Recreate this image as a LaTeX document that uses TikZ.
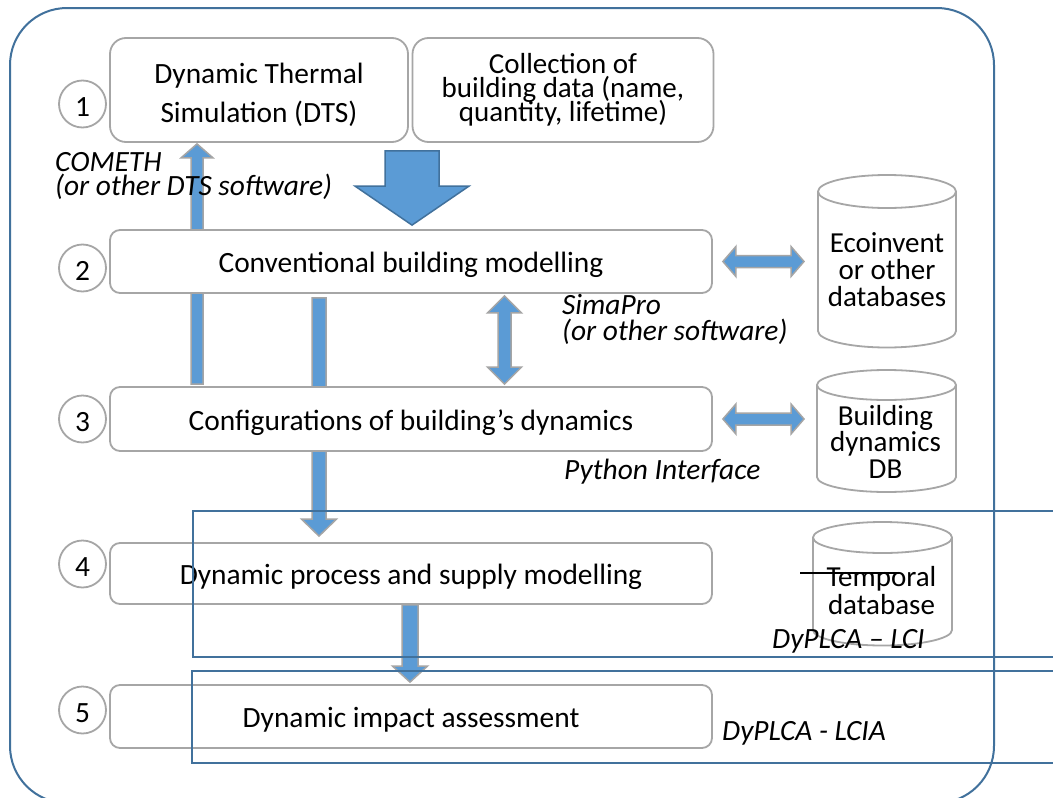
\documentclass[tikz,border=0pt]{standalone}
\usepackage{fontspec}
\setmainfont{Carlito}
\usetikzlibrary{calc}
\pgfdeclarelayer{back}
\pgfdeclarelayer{mid}
\pgfdeclarelayer{front}
\pgfsetlayers{back,mid,main,front}
\definecolor{frameblue}{HTML}{41719C}
\definecolor{arrowfill}{HTML}{5B9BD5}
\definecolor{boxgray}{HTML}{A6A6A6}
\definecolor{arrowgray}{HTML}{A5A5A5}
\newcommand\mainfs{\fontsize{29.4pt}{34pt}\selectfont\lineskiplimit=-100pt\relax}
% vertical single block arrow: style, tail, tip, shaft half, head half, head offset (signed)
\newcommand\vsingle[6]{\draw[#1] ($(#2)+(-#4,0)$) -- ($(#3)+(-#4,#6)$) -- ($(#3)+(-#5,#6)$) -- (#3) -- ($(#3)+(#5,#6)$) -- ($(#3)+(#4,#6)$) -- ($(#2)+(#4,0)$) -- cycle;}
% vertical double block arrow: style, top tip, bottom tip, shaft half, head half, head length
\newcommand\vdouble[6]{\draw[#1] (#2) -- ($(#2)+(#5,#6)$) -- ($(#2)+(#4,#6)$) -- ($(#3)+(#4,-#6)$) -- ($(#3)+(#5,-#6)$) -- (#3) -- ($(#3)+(-#5,-#6)$) -- ($(#3)+(-#4,-#6)$) -- ($(#2)+(-#4,#6)$) -- ($(#2)+(-#5,#6)$) -- cycle;}
% horizontal double block arrow: style, left tip, right tip, shaft half, head half, head length
\newcommand\hdouble[6]{\draw[#1] (#2) -- ($(#2)+(#6,-#5)$) -- ($(#2)+(#6,-#4)$) -- ($(#3)+(-#6,-#4)$) -- ($(#3)+(-#6,-#5)$) -- (#3) -- ($(#3)+(-#6,#5)$) -- ($(#3)+(-#6,#4)$) -- ($(#2)+(#6,#4)$) -- ($(#2)+(#6,#5)$) -- cycle;}
% database cylinder: cx, ytop, ybot, rx, ry
\newcommand\dbcyl[5]{%
  \draw[dbline,fill=white] (#1,#3) ellipse [x radius=#4, y radius=#5];
  \fill[white] (#1-#4,#2) rectangle (#1+#4,#3);
  \draw[dbline] (#1-#4,#2) -- (#1-#4,#3) (#1+#4,#2) -- (#1+#4,#3);
  \draw[dbline,fill=white] (#1,#2) ellipse [x radius=#4, y radius=#5];}
\begin{document}
\begin{tikzpicture}[x=1pt,y=-1pt,
  stepbox/.style={draw=boxgray,line width=1.8pt,fill=white,rounded corners=10pt,inner sep=0pt,align=center,font=\mainfs,text height=22pt,text depth=0pt},
  boxtext/.style={inner sep=0pt,align=center},
  numcirc/.style={circle,draw=boxgray,line width=1.8pt,fill=white,minimum size=47pt,inner sep=0pt,font=\mainfs,text height=25pt,text depth=0pt},
  dbtext/.style={align=center,inner sep=0pt,font=\mainfs},
  dbline/.style={draw=boxgray,line width=1.8pt},
  tool/.style={anchor=base west,inner sep=0pt,font=\mainfs\itshape},
  thinarrow/.style={fill=arrowfill,draw=arrowgray,line width=1.5pt},
  bigarrow/.style={fill=arrowfill,draw=frameblue,line width=1.5pt},
  frame/.style={draw=frameblue,line width=2pt}]
\useasboundingbox (0,0) rectangle (1053,798);

% outer frame
\begin{pgfonlayer}{back}
  \fill[white] (0,0) rectangle (1053,798);
  \draw[frame,rounded corners=57pt] (10,8) rectangle (994,803);
\end{pgfonlayer}

% step boxes
\node[stepbox,minimum width=298pt,minimum height=104pt,rounded corners=16pt,text height=,text depth=] (dts) at (259,90) {};
\node[boxtext,font={\fontsize{29.4pt}{39pt}\selectfont}] (dtstext) at (259,94.5) {Dynamic Thermal\\Simulation (DTS)};
\node[stepbox,minimum width=301pt,minimum height=104pt,rounded corners=16pt,text height=,text depth=,
      font={\fontsize{29pt}{24pt}\selectfont\lineskiplimit=-100pt\relax}] (coll) at (563,90) {Collection of\\building data (name,\\quantity, lifetime)};
\node[stepbox,minimum width=602pt,minimum height=63pt] (conv) at (411,261.5) {Conventional building modelling};
\node[stepbox,minimum width=602pt,minimum height=64pt,text height=23.5pt] (config) at (411,419) {Configurations of building’s dynamics};
\node[stepbox,minimum width=602pt,minimum height=61pt] (proc) at (411,573.5) {Dynamic process and supply modelling};
\node[stepbox,minimum width=602pt,minimum height=63pt] (impact) at (411,716.5) {Dynamic impact assessment};

% step numbers
\node[numcirc] (n1) at (82.5,104) {1};
\node[numcirc] (n2) at (82.5,268) {2};
\node[numcirc] (n3) at (82.5,419) {3};
\node[numcirc] (n4) at (82.5,564) {4};
\node[numcirc] (n5) at (82.5,710) {5};

% databases
\begin{pgfonlayer}{mid}
  \dbcyl{887}{191.5}{331}{69}{16.5}
  \dbcyl{886.5}{385}{477}{69.5}{15}
  \dbcyl{882.5}{537.5}{630}{69.5}{15.5}
\end{pgfonlayer}
\node[dbtext,font={\fontsize{29pt}{27pt}\selectfont\lineskiplimit=-100pt\relax}] (eco) at (887,270) {Ecoinvent\\or other\\databases};
\node[dbtext,font={\fontsize{29pt}{26.5pt}\selectfont\lineskiplimit=-100pt\relax}] (bdb) at (885.5,441.5) {Building\\dynamics\\DB};
\node[dbtext,font={\fontsize{29pt}{28pt}\selectfont\lineskiplimit=-100pt\relax}] (temporal) at (881.5,591) {Temporal\\database};

% tool labels
\node[tool] (cometh) at (55,171) {COMETH};
\node[tool] (comethsub) at (55,195) {(or other DTS software)};
\node[tool] (simapro) at (562,314) {SimaPro};
\node[tool] (simaprosub) at (562,340) {(or other software)};
\node[tool] (python) at (564,479) {Python Interface};
\node[tool] (lci) at (772,648) {DyPLCA – LCI};
\node[tool] (lcia) at (722,740) {DyPLCA - LCIA};

% guide coordinates
\coordinate (gA) at (197,0);
\coordinate (gB) at (319,0);
\coordinate (gC) at (410,0);
\coordinate (gD) at (504.5,0);
\coordinate (gE) at (412,0);
\coordinate (ecoW) at (818,0);
\coordinate (bdbW) at (817,0);

\coordinate (upTail) at ($(config.north -| gA)+(0,-2)$);
\coordinate (upTip) at ($(dts.south -| gA)+(0,1)$);
\coordinate (dnTail) at ($(conv.south -| gB)+(0,4)$);
\coordinate (dnTip) at ($(proc.north -| gB)+(0,-6)$);
\coordinate (lowTail) at (proc.south -| gC);
\coordinate (lowTip) at ($(impact.north -| gC)+(0,-2)$);
\coordinate (dblTop) at ($(conv.south -| gD)+(0,2)$);
\coordinate (dblBot) at ($(config.north -| gD)+(0,-2)$);
\coordinate (ecoL) at ($(conv.east)+(10,0)$);
\coordinate (ecoR) at ($(conv.east -| ecoW)+(-14,0)$);
\coordinate (bdbL) at ($(config.east)+(10,0)$);
\coordinate (bdbR) at ($(config.east -| bdbW)+(-13,0)$);
\coordinate (bigTail) at ($(dts.south -| gE)+(0,8)$);
\coordinate (bigTip) at ($(conv.north -| gE)+(0,-4)$);

% connectors
\begin{pgfonlayer}{mid}
  \vsingle{thinarrow}{upTail}{upTip}{6}{16}{14}
  \vsingle{thinarrow}{dnTail}{dnTip}{7}{17.5}{-17}
  \vsingle{thinarrow}{lowTail}{lowTip}{8}{17.5}{-16}
  \vdouble{thinarrow}{dblTop}{dblBot}{6.5}{17}{17}
  \hdouble{thinarrow}{ecoL}{ecoR}{6}{15}{13}
  \hdouble{thinarrow}{bdbL}{bdbR}{6}{15}{13}
\end{pgfonlayer}
\begin{pgfonlayer}{front}
  \vsingle{bigarrow}{bigTail}{bigTip}{27}{57}{-39}
  % DyPLCA frames
  \draw[frame] (193,511) rectangle (1070,657);
  \draw[frame] (192,671) rectangle (1070,763);
  \draw[black,line width=1.2pt] (800,573) -- (899,573);
\end{pgfonlayer}
\end{tikzpicture}
\end{document}
